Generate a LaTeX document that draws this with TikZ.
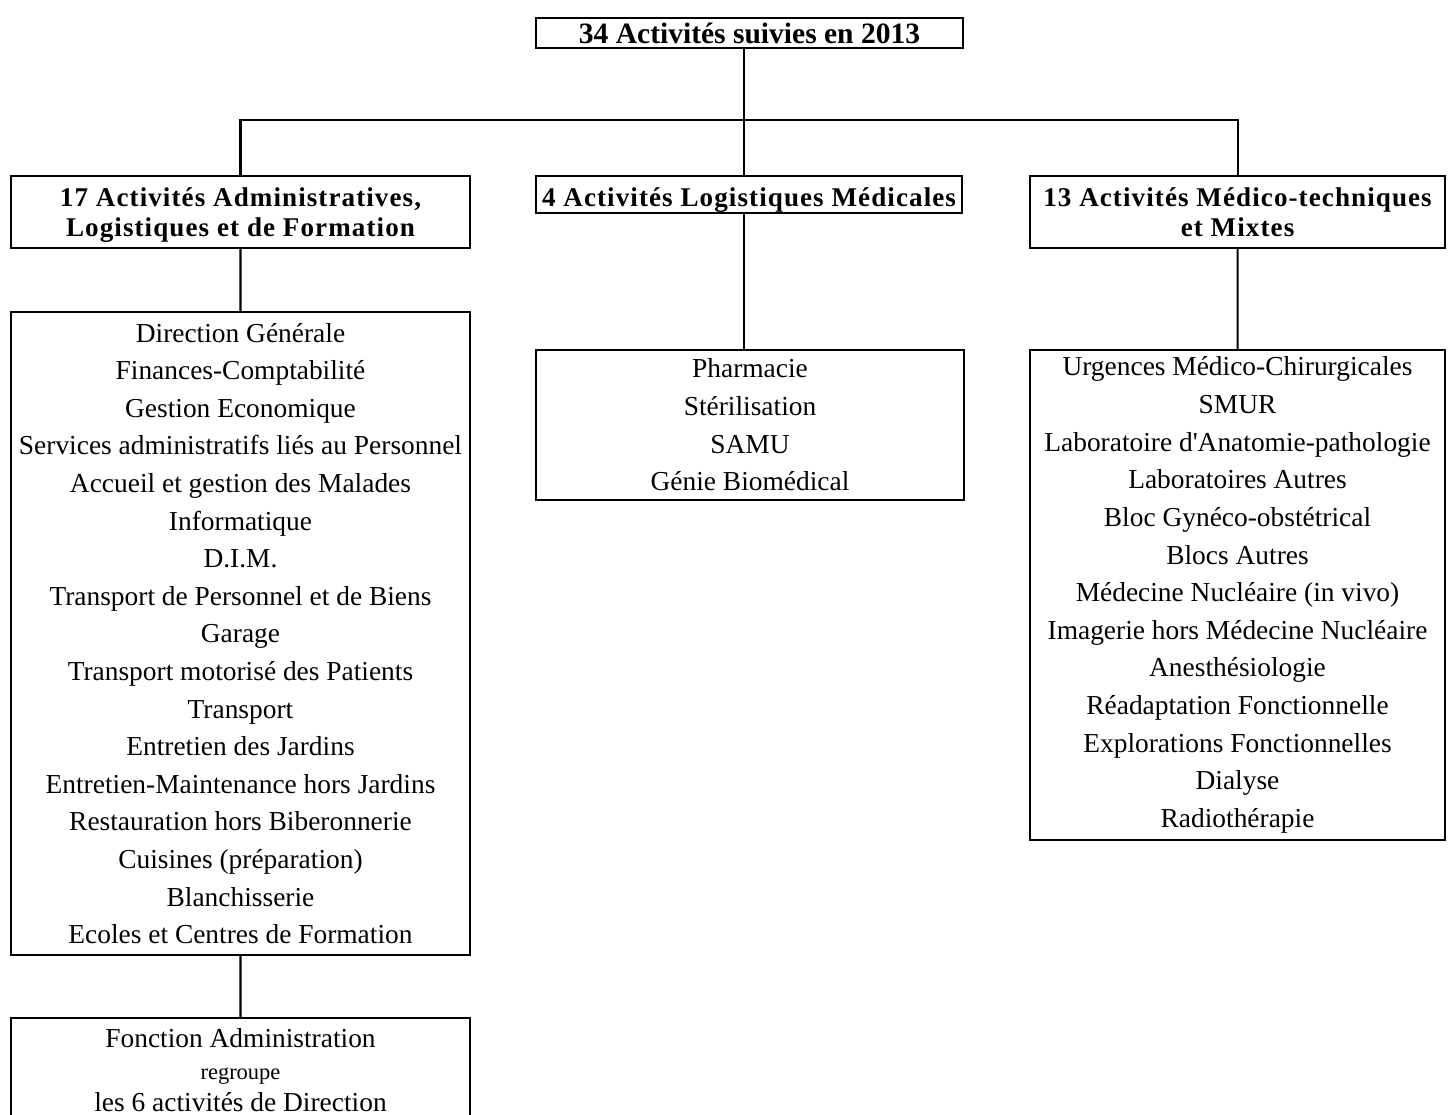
\documentclass[tikz,border=0pt]{standalone}
\usepackage{fontspec}
\setmainfont{Liberation Serif}
\newfontfamily\hdrfont[LetterSpace=4]{Liberation Serif}
\usetikzlibrary{positioning}

\newcommand\topstrut{\rule{0pt}{8.6pt}}
\newcommand\botstrut{\rule[-3.4pt]{0pt}{3.4pt}}

\tikzset{
  box/.style={draw=black, line width=0.6pt, inner sep=0pt, align=center},
  hdr/.style={box, font=\fontsize{8.4}{9.6}\selectfont\bfseries},
  grp/.style={box, font=\hdrfont\fontsize{7.7}{8.5}\selectfont\bfseries},
  lst/.style={box, font=\fontsize{7.8}{10.7}\selectfont},
  link/.style={black, line width=0.6pt}
}

\begin{document}
\begin{tikzpicture}[scale=0.1]
\useasboundingbox (0,0) rectangle (145.4,-111.5);
% top
\node [hdr, minimum width=42.7mm, minimum height=3mm] (total) at (74.95,-3.3) {34 Activités suivies en 2013};
% three groups
\node [grp, minimum width=45.9mm, minimum height=7.2mm] (admin) at (24.05,-21.2) {\topstrut17 Activités Administratives,\\Logistiques et de Formation\botstrut};
\node [grp, minimum width=42.6mm, minimum height=3.7mm] (logmed) at (74.9,-19.45) {\raisebox{-3.4pt}[0pt][0pt]{4 Activités Logistiques Médicales}};
\node [grp, minimum width=41.5mm, minimum height=7.2mm] (medtec) at (123.75,-21.2) {\topstrut13 Activités Médico-techniques\\et Mixtes\botstrut};
% lists
\node [lst, minimum width=45.9mm, minimum height=64.3mm] (adminlist) at (24.05,-63.35) {Direction Générale\\Finances-Comptabilité\\Gestion Economique\\Services administratifs liés au Personnel\\Accueil et gestion des Malades\\Informatique\\D.I.M.\\Transport de Personnel et de Biens\\Garage\\Transport motorisé des Patients\\Transport\\Entretien des Jardins\\Entretien-Maintenance hors Jardins\\Restauration hors Biberonnerie\\Cuisines (préparation)\\Blanchisserie\\Ecoles et Centres de Formation};
\node [lst, minimum width=42.8mm, minimum height=15mm] (logmedlist) at (75,-42.5) {Pharmacie\\Stérilisation\\SAMU\\Génie Biomédical};
\node [lst, minimum width=41.5mm, minimum height=49mm] (medteclist) at (123.75,-59.5) {Urgences Médico-Chirurgicales\\SMUR\\Laboratoire d\textquotesingle Anatomie-pathologie\\Laboratoires Autres\\Bloc Gynéco-obstétrical\\Blocs Autres\\Médecine Nucléaire (in vivo)\\Imagerie hors Médecine Nucléaire\\Anesthésiologie\\Réadaptation Fonctionnelle\\Explorations Fonctionnelles\\Dialyse\\Radiothérapie};
\node [lst, font=\fontsize{7.8}{9.2}\selectfont, minimum width=45.9mm, minimum height=10.4mm] (fonction) at (24.05,-107) {Fonction Administration\\{\fontsize{6.4}{9.2}\selectfont regroupe}\\les 6 activités de Direction};
% connectors
\coordinate (bus) at (74.4,-12);
\draw [link] (bus |- total.south) -- (bus);
\draw [link] (admin.north) |- (bus) -| (medtec.north);
\draw [link] (bus) -- (bus |- logmed.north);
\draw [link] (bus |- logmed.south) -- (bus |- logmedlist.north);
\draw [link] (admin) -- (adminlist);
\draw [link] (medtec) -- (medteclist);
\draw [link] (adminlist) -- (fonction);
\end{tikzpicture}
\end{document}
